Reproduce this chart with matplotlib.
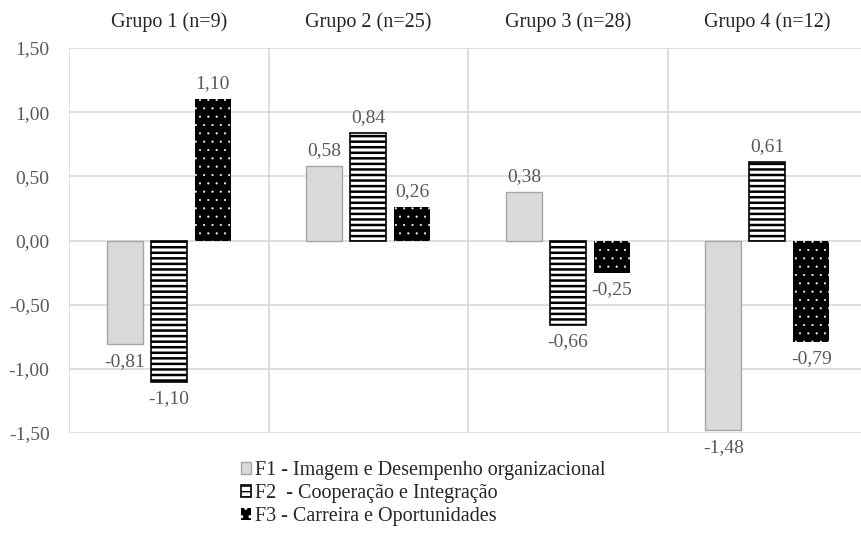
import matplotlib
matplotlib.use("Agg")
import matplotlib.pyplot as plt
import matplotlib.transforms as transforms
import numpy as np

# dados
grupos = ["Grupo 1 (n=9)", "Grupo 2 (n=25)", "Grupo 3 (n=28)", "Grupo 4 (n=12)"]
f1 = [-0.81, 0.58, 0.38, -1.48]
f2 = [-1.10, 0.84, -0.66, 0.61]
f3 = [1.10, 0.26, -0.25, -0.79]
series_nomes = ["F1 - Imagem e Desempenho organizacional",
                "F2  - Cooperação e Integração",
                "F3 - Carreira e Oportunidades"]
y_ticks = [-1.5, -1.0, -0.5, 0.0, 0.5, 1.0, 1.5]

plt.rcParams['font.family'] = ['Liberation Serif', 'DejaVu Serif']

fig = plt.figure(figsize=(8.62, 5.35), dpi=100)
ax = fig.add_axes([69/862, 1-433/535, 798/862, 385/535])

x = np.arange(len(grupos))
w = 0.18
off = 0.22
cinza = "#595959"

b1 = ax.bar(x - off, f1, w, color="#d9d9d9", edgecolor="#a6a6a6", linewidth=1, zorder=3,
            label=series_nomes[0])
with plt.rc_context({'hatch.linewidth': 1.8}):
    b2 = ax.bar(x, f2, w, color="white", edgecolor="black", hatch="---", linewidth=1.2, zorder=3,
                label=series_nomes[1])
with plt.rc_context({'hatch.linewidth': 0.3}):
    b3 = ax.bar(x + off, f3, w, color="black", edgecolor="white", hatch="..", linewidth=0, zorder=3,
                label=series_nomes[2])

# rótulos de dados
for bars, vals in [(b1, f1), (b2, f2), (b3, f3)]:
    for p, v in zip(bars, vals):
        cx = p.get_x() + p.get_width() / 2
        txt = f"{v:.2f}".replace(".", ",")
        if v >= 0:
            ax.annotate(txt, (cx, v), xytext=(0, 5), textcoords="offset points",
                        ha="center", va="bottom", fontsize=14, color=cinza, zorder=4)
        else:
            ax.annotate(txt, (cx, v), xytext=(0, -6), textcoords="offset points",
                        ha="center", va="top", fontsize=14, color=cinza, zorder=4,
                        annotation_clip=False)

ax.set_xlim(-0.5, len(grupos) - 0.5)
ax.set_ylim(-1.5, 1.5)
ax.set_yticks(y_ticks)
ax.set_yticklabels([f"{t:.2f}".replace(".", ",") for t in y_ticks], fontsize=14, color=cinza)
ax.tick_params(axis="y", length=0, pad=14)
ax.set_xticks([])
ax.grid(axis="y", color="#d9d9d9", linewidth=1.2, zorder=0)
for xv in np.arange(-0.5, len(grupos), 1.0):
    ax.axvline(xv, color="#d9d9d9", linewidth=1.2, zorder=0)
for s in ax.spines.values():
    s.set_visible(False)

# títulos dos grupos
trans = transforms.blended_transform_factory(ax.transData, ax.transAxes)
for i, g in enumerate(grupos):
    ax.text(i, 1.067, g, transform=trans, ha="center", va="center", fontsize=14.5, color="#262626")

leg = fig.legend(handles=[b1, b2, b3], loc="upper left", bbox_to_anchor=(231/862, 1-451/535),
                 frameon=False, fontsize=14.5, handlelength=0.5, handleheight=0.5,
                 handletextpad=0.2, labelspacing=0.2, borderpad=0)
for t in leg.get_texts():
    t.set_color("#262626")

fig.savefig("out.png", dpi=100)
